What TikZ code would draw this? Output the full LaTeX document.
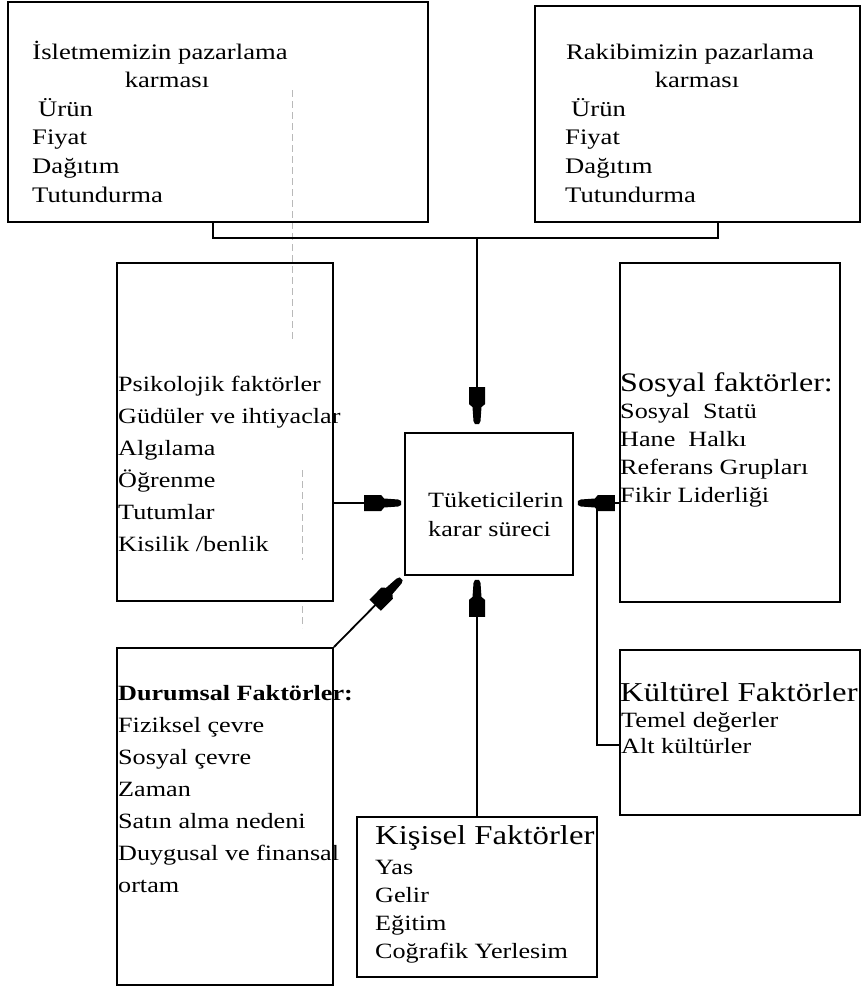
\documentclass[tikz,border=0pt]{standalone}
\usepackage{fontspec}
\setmainfont[FakeStretch=1.2]{Liberation Serif}
\usetikzlibrary{decorations.markings}
\newcommand\fsz[2]{\fontsize{#1}{#2}\selectfont}
\tikzset{
  box/.style={draw, line width=1.8pt, inner sep=0pt},
  txt/.style={anchor=north west, inner sep=0pt, align=left},
  head/.style={anchor=base west, inner sep=0pt, font=\fsz{27.3}{30}},
  conn/.style={line width=1.8pt},
  % heavy blunt arrowhead, its tip kept #1 away from the target border
  arr/.style={conn, shorten >=16pt,
    postaction={decorate, decoration={markings,
      mark=at position -#1 with {
        \fill[black] (-37,-8) -- (-20,-8) -- (-17,-4.5) -- (-3,-3.5)
          -- (0,-2) -- (0,2) -- (-3,3.5) -- (-17,4.5) -- (-20,8)
          -- (-37,8) -- cycle;}}}},
  arr/.default=4pt,
  scan/.style={gray!55, line width=0.6pt, dash pattern=on 7pt off 4pt}
}
\begin{document}
\begin{tikzpicture}[x=1pt,y=-1pt]
\fill[white] (0,0) rectangle (864,990);
\useasboundingbox (0,0) rectangle (864,990);

% faint vertical trace
\draw[scan] (292,90) -- (292,340);
\draw[scan] (302,470) -- (302,560);
\draw[scan] (302,606) -- (302,628);

% boxes
\node[box, minimum width=420pt, minimum height=220pt] (A) at (218,112) {};
\node[box, minimum width=325pt, minimum height=216pt] (B) at (697.5,114) {};
\node[box, minimum width=168pt, minimum height=142pt] (C) at (489,504) {};
\node[box, minimum width=216pt, minimum height=338pt] (P) at (225,432) {};
\node[box, minimum width=220pt, minimum height=339pt] (S) at (730,432.5) {};
\node[box, minimum width=216pt, minimum height=337pt] (D) at (225,816.5) {};
\node[box, minimum width=240pt, minimum height=160pt] (K) at (477,897) {};
\node[box, minimum width=240pt, minimum height=165pt] (U) at (740,732.5) {};

% junction points
\coordinate (jA) at (213,238);
\coordinate (jB) at (718,238);
\coordinate (jM) at (477,238);
\coordinate (jP) at (333,503);
\coordinate (jU) at (597,745);

% connectors
\draw[conn] (A.south -| jA) -- (jA) -- (jB) -- (B.south -| jB);
\draw[arr=8pt] (jM) -- (jM |- C.north);
\draw[arr=3pt] (P.east |- jP) -- (C.west |- jP);
\draw[arr] (S.west |- jP) -- (C.east |- jP);
\draw[conn] (U.west |- jU) -- (jU) -- (jU |- jP);
\draw[arr] (D.north east) -- (C.south west);
\draw[arr] (K.north) -- (K.north |- C.south);

% texts
\node[txt, anchor=north, align=center, font=\fsz{22.2}{28.6}] (At) at (160,39)
  {\strut İsletmemizin pazarlama\\\hspace*{14pt}karması};
\node[txt, font=\fsz{22.2}{28.6}] (Al) at (32,96)
  {\strut\hspace*{6pt}Ürün\\Fiyat\\Dağıtım\\Tutundurma};

\node[txt, anchor=north, align=center, font=\fsz{22.2}{28.6}] (Bt) at (690,39)
  {\strut Rakibimizin pazarlama\\\hspace*{14pt}karması};
\node[txt, font=\fsz{22.2}{28.6}] (Bl) at (565,96)
  {\strut\hspace*{6pt}Ürün\\Fiyat\\Dağıtım\\Tutundurma};

\node[txt, font=\fsz{21.8}{29}] (Ct) at (428,486.7)
  {\strut Tüketicilerin\\karar süreci};

\node[txt, font=\fsz{21.8}{32}] (Pt) at (118,368.6)
  {\strut Psikolojik faktörler\\Güdüler ve ihtiyaclar\\Algılama\\Öğrenme\\Tutumlar\\Kisilik /benlik};

\node[head, font=\fsz{26.7}{30}] (Sh) at (620,391) {Sosyal faktörler:};
\node[txt, font=\fsz{21.8}{28}] (Sl) at (620,398.4)
  {\strut Sosyal\ \ Statü\\Hane\ \ Halkı\\Referans Grupları\\Fikir Liderliği};

\node[txt, font=\fsz{21.8}{32}] (Dt) at (118,677.6)
  {\strut\textbf{Durumsal Faktörler:}\\Fiziksel çevre\\Sosyal çevre\\Zaman\\Satın alma nedeni\\Duygusal ve finansal\\ortam};

\node[head] (Kh) at (375,844) {Kişisel Faktörler};
\node[txt, font=\fsz{21.8}{28}] (Kl) at (375,855)
  {\strut Yas\\Gelir\\Eğitim\\Coğrafik Yerlesim};

\node[head] (Uh) at (620,701) {Kültürel Faktörler};
\node[txt, font=\fsz{21.8}{26.5}] (Ul) at (621,708.5)
  {\strut Temel değerler\\Alt kültürler};
\end{tikzpicture}
\end{document}
